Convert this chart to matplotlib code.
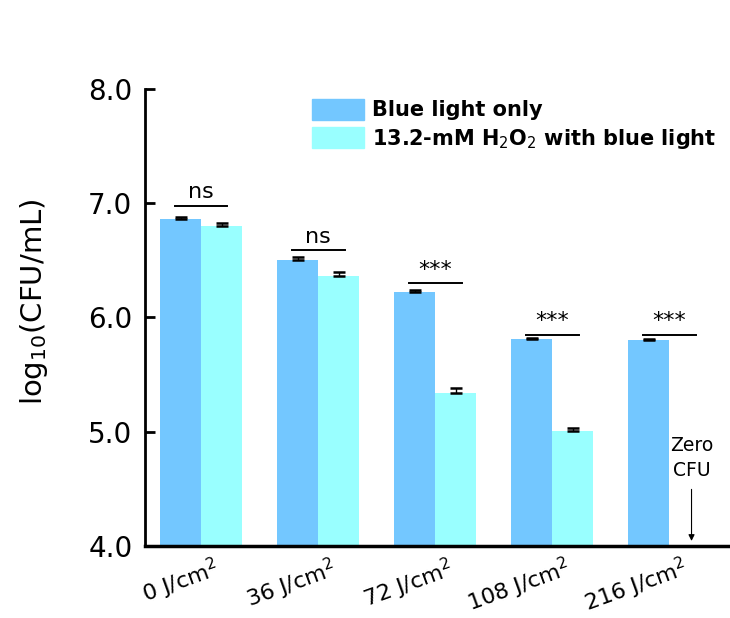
import numpy as np
import matplotlib
matplotlib.use('Agg')
import matplotlib.pyplot as plt
import matplotlib.transforms as mtransforms
from matplotlib.patches import Patch

plt.rcParams['font.family'] = ['DejaVu Sans']
plt.rcParams['mathtext.fontset'] = 'dejavusans'

# log10 CFU/mL for each blue light dose
doses = ['0 J/cm$^2$', '36 J/cm$^2$', '72 J/cm$^2$', '108 J/cm$^2$', '216 J/cm$^2$']
blue_only = [6.86, 6.50, 6.22, 5.81, 5.80]
blue_only_err = [0.02, 0.03, 0.02, 0.01, 0.01]
# H2O2 + 216 J/cm2 gave zero CFU, so only four bars
h2o2_blue = [6.80, 6.36, 5.34, 5.01]
h2o2_blue_err = [0.03, 0.04, 0.04, 0.02]
sig_marks = ['ns', 'ns', '***', '***', '***']
sig_levels = [6.98, 6.59, 6.30, 5.85, 5.85]

c_blue = '#73C7FF'
c_cyan = '#99FFFF'
w = 0.35

fig = plt.figure(figsize=(7.3, 6.18), dpi=100)
ax = fig.add_axes([0.1986, 0.1165, 0.7984, 0.7395])

x = np.arange(len(doses))
ax.bar(x - w / 2, blue_only, w, color=c_blue)
ax.bar(x[:len(h2o2_blue)] + w / 2, h2o2_blue, w, color=c_cyan)
ax.errorbar(x - w / 2, blue_only, yerr=[np.zeros(len(blue_only)), blue_only_err],
            fmt='none', ecolor='black', elinewidth=1, capsize=4, capthick=1.8)
ax.errorbar(x[:len(h2o2_blue)] + w / 2, h2o2_blue,
            yerr=[np.zeros(len(h2o2_blue)), h2o2_blue_err],
            fmt='none', ecolor='black', elinewidth=1, capsize=4, capthick=1.8)

# significance bars
for xi, lab, lev in zip(x, sig_marks, sig_levels):
    ax.plot([xi - 0.225, xi + 0.225], [lev, lev], color='black', lw=1.4)
    ax.text(xi, lev + 0.03, lab, ha='center', va='bottom', fontsize=16)

# zero CFU note for the last H2O2 group
ax.text(4.19, 4.77, 'Zero\nCFU', ha='center', va='center', fontsize=13.5,
        linespacing=1.35)
ax.annotate('', xy=(4.19, 4.02), xytext=(4.19, 4.52),
            arrowprops=dict(arrowstyle='-|>', color='black', lw=0.8,
                            mutation_scale=9))

ax.set_ylim(4.0, 8.0)
ax.set_xlim(-0.48, 4.5)
ax.set_yticks([4.0, 5.0, 6.0, 7.0, 8.0])
ax.set_yticklabels(['4.0', '5.0', '6.0', '7.0', '8.0'], fontsize=20)

# slanted dose labels, nudged right of each group centre
ax.set_xticks(x)
ax.set_xticklabels([])
shift = mtransforms.ScaledTranslation(0.12, -0.08, fig.dpi_scale_trans)
for xi, lab in zip(x, doses):
    ax.text(xi, 0, lab, transform=ax.get_xaxis_transform() + shift,
            fontsize=16, rotation=20, ha='right', va='top',
            rotation_mode='anchor')

ax.tick_params(axis='x', length=0)
ax.tick_params(axis='y', direction='in', length=7, width=2, pad=9)
ax.spines['top'].set_visible(False)
ax.spines['right'].set_visible(False)
ax.spines['left'].set_linewidth(2)
ax.spines['bottom'].set_linewidth(2.5)

ax.set_ylabel('log$_{10}$(CFU/mL)', fontsize=21)
ax.yaxis.set_label_coords(-0.163, 0.534)

handles = [Patch(color=c_blue), Patch(color=c_cyan)]
ax.legend(handles, ['Blue light only', '13.2-mM H$_2$O$_2$ with blue light'],
          loc='upper left', bbox_to_anchor=(0.255, 1.02), frameon=False,
          prop={'size': 15, 'weight': 'bold'}, handlelength=2.5,
          handleheight=1.2, labelspacing=0.3, handletextpad=0.35)

fig.savefig('out.png', dpi=100)
